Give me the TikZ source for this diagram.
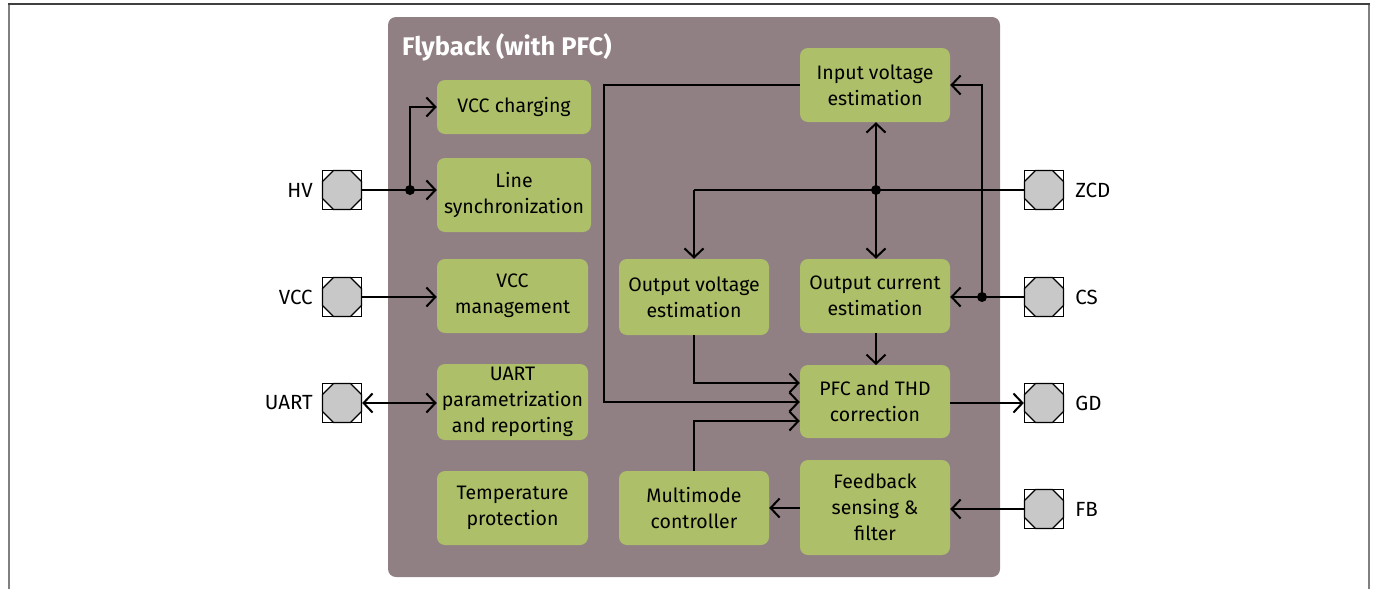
\documentclass[tikz,border=0pt]{standalone}
\usepackage{fontspec}
\setmainfont{Fira Sans}
\usetikzlibrary{arrows.meta,calc}
\definecolor{panel}{RGB}{145,128,131}
\definecolor{blockgreen}{RGB}{173,191,104}
\definecolor{pingray}{RGB}{200,200,200}
\definecolor{framegray}{RGB}{128,128,128}
\newcommand\pinoct[1]{\draw[line width=1.3pt,fill=pingray] ($(#1)+(-8.5,19.5)$) -- ($(#1)+(8.5,19.5)$) -- ($(#1)+(19.5,8.5)$) -- ($(#1)+(19.5,-8.5)$) -- ($(#1)+(8.5,-19.5)$) -- ($(#1)+(-8.5,-19.5)$) -- ($(#1)+(-19.5,-8.5)$) -- ($(#1)+(-19.5,8.5)$) -- cycle;}
\begin{document}
\begin{tikzpicture}[x=1pt,y=-1pt,
  blk/.style={fill=blockgreen, rounded corners=8pt, inner sep=0pt, align=center,
    font=\fontsize{19.5}{26}\selectfont, text=black},
  pin/.style={draw, fill=white, line width=1.3pt, minimum size=39pt, inner sep=0pt},
  lbl/.style={font=\fontsize{20.5}{24}\selectfont, inner sep=0pt},
  conn/.style={line width=2pt, -{Straight Barb[length=9pt,width=19pt,line width=2pt]}},
  bconn/.style={line width=2pt, {Straight Barb[length=9pt,width=19pt,line width=2pt]}-{Straight Barb[length=9pt,width=19pt,line width=2pt]}},
  plain/.style={line width=2pt},
  dot/.style={circle, fill=black, inner sep=0pt, minimum size=10pt}
]
\useasboundingbox (0,0) rectangle (1378,589);
% outer frame
\draw[framegray, line width=2pt] (9,589) -- (9,4);
\draw[framegray, line width=2pt] (1369,589) -- (1369,4);
\draw[black!75, line width=2pt] (8,4) -- (1370,4);
% panel
\node[fill=panel, rounded corners=8pt, minimum width=612pt, minimum height=560pt, inner sep=0pt] (panel) at (694,297) {};
\node[anchor=west, text=white, font=\fontsize{25.5}{29}\selectfont\bfseries, inner sep=0pt] (title) at (402,47) {Flyback (with PFC)};
% blocks
\node[blk, minimum width=154pt, minimum height=54pt] (vccch) at (514,107) {VCC charging};
\node[blk, minimum width=154pt, minimum height=74pt] (lsync) at (514,195) {Line\\synchronization};
\node[blk, minimum width=151pt, minimum height=74pt] (vccm) at (512.5,296) {VCC\\management};
\node[blk, minimum width=151pt, minimum height=76pt] (uart) at (512.5,402) {UART\\parametrization\\and reporting};
\node[blk, minimum width=151pt, minimum height=74pt] (temp) at (512.5,508) {Temperature\\protection};
\node[blk, minimum width=150pt, minimum height=74pt] (vin) at (875,85) {Input voltage\\estimation};
\node[blk, minimum width=150pt, minimum height=76pt] (vout) at (694,297) {Output voltage\\estimation};
\node[blk, minimum width=150pt, minimum height=74pt] (iout) at (875,296) {Output current\\estimation};
\node[blk, minimum width=150pt, minimum height=73pt] (pfc) at (875,401.5) {PFC and THD\\correction};
\node[blk, minimum width=150pt, minimum height=74pt] (mm) at (694,508) {Multimode\\controller};
\node[blk, minimum width=150pt, minimum height=95pt] (fbs) at (875,507.5) {Feedback\\sensing \&\\filter};
% pins
\node[pin] (hv) at (342,190) {}; \pinoct{hv}
\node[pin] (vcc) at (342,297) {}; \pinoct{vcc}
\node[pin] (uartp) at (342,403) {}; \pinoct{uartp}
\node[pin] (zcd) at (1044,190) {}; \pinoct{zcd}
\node[pin] (cs) at (1044,297) {}; \pinoct{cs}
\node[pin] (gd) at (1044,403) {}; \pinoct{gd}
\node[pin] (fb) at (1044,509) {}; \pinoct{fb}
% pin labels
\node[lbl, anchor=east] (lhv) at ([xshift=-9pt]hv.west) {HV};
\node[lbl, anchor=east] (lvcc) at ([xshift=-9pt]vcc.west) {VCC};
\node[lbl, anchor=east] (luart) at ([xshift=-9pt]uartp.west) {UART};
\node[lbl, anchor=west] (lzcd) at ([xshift=11pt]zcd.east) {ZCD};
\node[lbl, anchor=west] (lcs) at ([xshift=11pt]cs.east) {CS};
\node[lbl, anchor=west] (lgd) at ([xshift=11pt]gd.east) {GD};
\node[lbl, anchor=west] (lfb) at ([xshift=11pt]fb.east) {FB};
% junctions
\coordinate (jhv) at (410,190);
\coordinate (jzcd) at (876,190);
\coordinate (jcs) at (982,297);
% left side connections
\draw[conn] (hv.east) -- (lsync.west |- hv.east);
\draw[conn] (jhv) -- (jhv |- vccch.west) -- (vccch.west);
\draw[conn] (vcc.east) -- (vccm.west |- vcc.east);
\draw[bconn] (uartp.east) -- (uart.west |- uartp.east);
% input voltage to PFC
\draw[conn] (vin.west) -- (604,85) -- (604,402) -- (pfc.west |- 604,402);
% ZCD distribution
\draw[plain] (zcd.west) -- (694,190);
\draw[conn] (694,190) -- (vout.north);
\draw[conn] (jzcd) -- (jzcd |- vin.south);
\draw[conn] (jzcd) -- (jzcd |- iout.north);
% CS
\draw[conn] (cs.west) -- (iout.east |- cs.west);
\draw[conn] (jcs) -- (982,85) -- (vin.east |- 982,85);
% into PFC
\draw[conn] (876,333) -- (876,365);
\draw[conn] (vout.south) -- (694,383) -- (pfc.west |- 694,383);
\draw[conn] (mm.north) -- (694,421) -- (pfc.west |- 694,421);
\draw[conn] (pfc.east |- gd.west) -- (gd.west);
\draw[conn] (fb.west) -- (fbs.east |- fb.west);
\draw[conn] (fbs.west |- mm.east) -- (mm.east);
% dots
\node[dot] (dhv) at (jhv) {};
\node[dot] (dzcd) at (jzcd) {};
\node[dot] (dcs) at (jcs) {};
\end{tikzpicture}
\end{document}
